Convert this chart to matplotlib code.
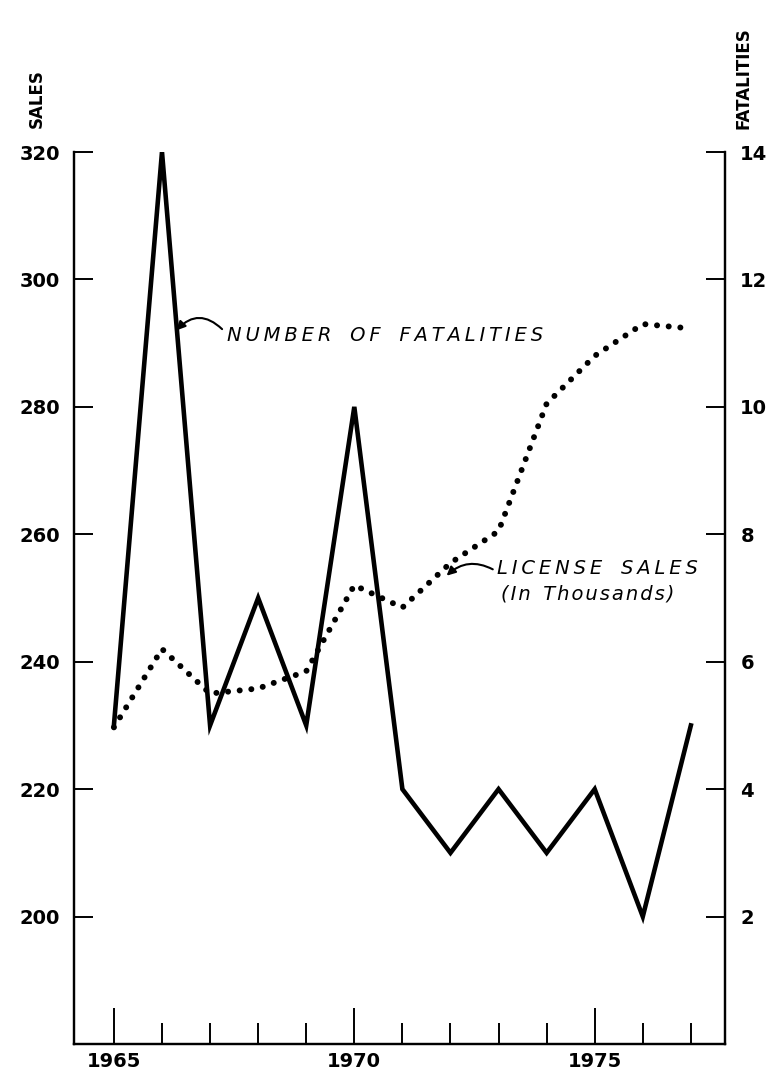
import matplotlib
matplotlib.use("Agg")
import matplotlib.pyplot as plt

years = [1965, 1966, 1967, 1968, 1969, 1970, 1971, 1972, 1973, 1974, 1975, 1976, 1977]
license_sales = [229.7, 242.0, 235.0, 235.8, 238.5, 252.0, 248.5, 255.5, 260.5, 280.5, 288.0, 293.0, 292.3]
fatalities = [5, 14, 5, 7, 5, 10, 4, 3, 4, 3, 4, 2, 5]
sales_ticks = [200, 220, 240, 260, 280, 300, 320]
fatal_ticks = [2, 4, 6, 8, 10, 12, 14]
year_labels = [1965, 1970, 1975]

plt.rcParams['font.family'] = ['DejaVu Sans']


def spaced(s, gap='\u2009', word_gap='   '):
    return word_gap.join(gap.join(w) for w in s.split(' '))


W, H = 770, 1078
fig = plt.figure(figsize=(W / 100, H / 100), dpi=100)
left, right, top, bottom = 74, 725, 152, 1044
ax = fig.add_axes([left / W, 1 - bottom / H, (right - left) / W, (bottom - top) / H])
ax2 = ax.twinx()

ax.set_xlim(1964.17, 1977.71)
ax.set_ylim(180, 320)
ax2.set_ylim(0, 14)

lw_sp = 1.6
for a in (ax, ax2):
    a.spines['top'].set_visible(False)
    for s in ('left', 'right', 'bottom'):
        a.spines[s].set_linewidth(lw_sp)

# fatalities on right axis
ax2.plot(years, fatalities, color='black', lw=3.3, solid_joinstyle='miter', zorder=3)
# license sales dotted on left axis
ax.plot(years, license_sales, color='black', lw=4.3, linestyle=(0, (0.01, 1.95)),
        dash_capstyle='round', zorder=3)

ax.set_xticks(years)
ax.set_xticklabels([str(y) if y in year_labels else '' for y in years])
ax.tick_params(axis='x', direction='in', length=15, width=1.4, labelsize=14, pad=6)
for t, y in zip(ax.xaxis.get_major_ticks(), years):
    if y in year_labels:
        t.tick1line.set_markersize(26)

ax.set_yticks(sales_ticks)
ax.tick_params(axis='y', direction='in', length=14, width=1.4, labelsize=14, pad=10)
ax2.set_yticks(fatal_ticks)
ax2.tick_params(axis='y', direction='in', length=14, width=1.4, labelsize=14, pad=11)
for lab in ax.get_xticklabels() + ax.get_yticklabels() + ax2.get_yticklabels():
    lab.set_fontweight('bold')

fig.text(37 / W, 1 - 99 / H, 'SALES', rotation=90, ha='center', va='center',
         fontsize=12, fontweight='bold')
fig.text(743 / W, 1 - 78 / H, 'FATALITIES', rotation=90, ha='center', va='center',
         fontsize=12, fontweight='bold')

# NUMBER OF FATALITIES annotation
ax2.text(1967.35, 11.12, spaced('NUMBER OF FATALITIES'), fontsize=14, style='italic',
         ha='left', va='center')
ax2.annotate('', xy=(1966.3, 11.2), xycoords='data',
             xytext=(1967.25, 11.22), textcoords='data',
             arrowprops=dict(arrowstyle='-|>', color='black', lw=1.5,
                             connectionstyle='arc3,rad=0.5', shrinkA=0, shrinkB=0,
                             mutation_scale=13))

# LICENSE SALES annotation
ax.text(1972.96, 254.6, spaced('LICENSE SALES'), fontsize=14, style='italic',
        ha='left', va='center')
ax.text(1973.06, 250.6, spaced('(In Thousands)', gap='\u200a', word_gap='  '),
        fontsize=14, style='italic', ha='left', va='center')
ax.annotate('', xy=(1971.92, 253.5), xycoords='data',
            xytext=(1972.88, 254.5), textcoords='data',
            arrowprops=dict(arrowstyle='-|>', color='black', lw=1.5,
                            connectionstyle='arc3,rad=0.35', shrinkA=0, shrinkB=0,
                            mutation_scale=13))

fig.savefig('out.png', dpi=100)
